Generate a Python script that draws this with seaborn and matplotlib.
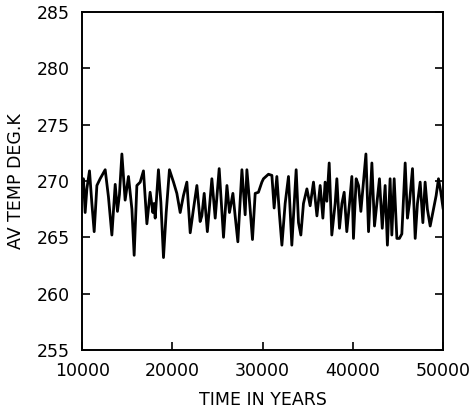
from matplotlib import pyplot as plt
from matplotlib import ticker as ticker
import pandas as pd
import seaborn as sns

sns.set_style('ticks', {'axes.edgecolor': 'black', 'text.color': 'black',
                        'axes.labelcolor': 'black', 'xtick.color': 'black',
                        'ytick.color': 'black'})
plt.rcParams['font.family'] = ['DejaVu Sans']

# values (turning points of the trace)
years = [10000, 10140, 10330, 10520, 10810, 11075, 11330, 11630, 11990, 12550,
         12910, 13290, 13660, 13910, 14130, 14400, 14760, 15130, 15510, 15760,
         16060, 16430, 16790, 17170, 17530, 17830, 17960, 18090, 18450, 18720,
         19010, 19310, 19670, 20120, 20490, 20860, 21220, 21600, 21970, 22330,
         22710, 23070, 23260, 23520, 23870, 24370, 24740, 25180, 25660, 26040,
         26320, 26700, 26950, 27250, 27700, 28060, 28250, 28610, 28870, 29170,
         29530, 29910, 30090, 30640, 31020, 31270, 31570, 31860, 32130, 32490,
         32860, 33230, 33490, 33710, 33970, 34230, 34520, 34900, 35260, 35630,
         36010, 36370, 36670, 36920, 37110, 37370, 37660, 38030, 38220, 38510,
         38780, 39030, 39320, 39620, 39880, 40060, 40360, 40620, 40880, 41170,
         41440, 41730, 42100, 42390, 42650, 42940, 43250, 43570, 43820, 44120,
         44310, 44570, 44870, 45150, 45420, 45790, 46040, 46260, 46600, 46900,
         47150, 47450, 47750, 48000, 48250, 48560, 48920, 49220, 49480, 49740,
         50000]
temps = [269.8, 270.2, 267.2, 269.3, 270.9, 268.0, 265.5, 269.6, 270.2, 271.0,
         268.6, 265.2, 269.7, 267.3, 268.8, 272.4, 268.3, 270.4, 267.5, 263.4,
         269.6, 269.9, 270.9, 266.2, 269.0, 267.2, 268.0, 266.7, 271.0, 268.1,
         263.2, 267.2, 271.0, 269.9, 268.9, 267.2, 268.7, 269.9, 265.4, 267.5,
         269.6, 266.4, 266.9, 268.9, 265.5, 270.2, 266.7, 271.1, 265.0, 269.6,
         267.2, 268.9, 266.9, 264.6, 271.0, 267.0, 271.0, 267.5, 264.8, 268.9,
         269.0, 269.9, 270.2, 270.6, 270.5, 267.6, 270.4, 267.0, 264.3, 268.0,
         270.4, 264.3, 268.0, 271.0, 266.3, 265.2, 268.0, 269.3, 267.8, 269.9,
         266.9, 269.6, 266.7, 269.9, 268.2, 271.6, 265.2, 268.0, 270.2, 265.8,
         268.0, 269.0, 265.5, 268.0, 270.4, 264.9, 270.2, 269.6, 267.3, 269.9,
         272.4, 265.5, 271.6, 266.0, 268.0, 270.2, 265.8, 269.6, 264.3, 270.2,
         265.2, 270.2, 264.9, 264.9, 265.3, 271.6, 266.7, 268.0, 271.1, 264.9,
         268.0, 269.9, 266.3, 269.9, 267.5, 266.0, 267.5, 268.7, 270.2, 269.0,
         267.5]

df = pd.DataFrame({'year': years, 'temp': temps})

fig = plt.figure(figsize=(4.75, 4.18), dpi=100)
ax = fig.add_axes([0.173, 0.163, 0.76, 0.808])

sns.lineplot(x='year', y='temp', data=df, estimator=None, color='black', lw=2.0, ax=ax)

ax.set(xlim=(10000, 50000), ylim=(255, 285))
ax.xaxis.set_major_locator(ticker.MultipleLocator(10000))
ax.yaxis.set_major_locator(ticker.MultipleLocator(5))
ax.tick_params(direction='in', length=6, width=1.2, pad=9, labelsize=12.5,
               right=True, colors='black')
for s in ax.spines.values():
    s.set_linewidth(1.4)
    s.set_color('black')
ax.set_xlabel('TIME IN YEARS', fontsize=12.5, labelpad=8, color='black')
ax.set_ylabel('AV TEMP DEG.K', fontsize=12.5, labelpad=8, color='black')

plt.savefig('out.png', dpi=100)
